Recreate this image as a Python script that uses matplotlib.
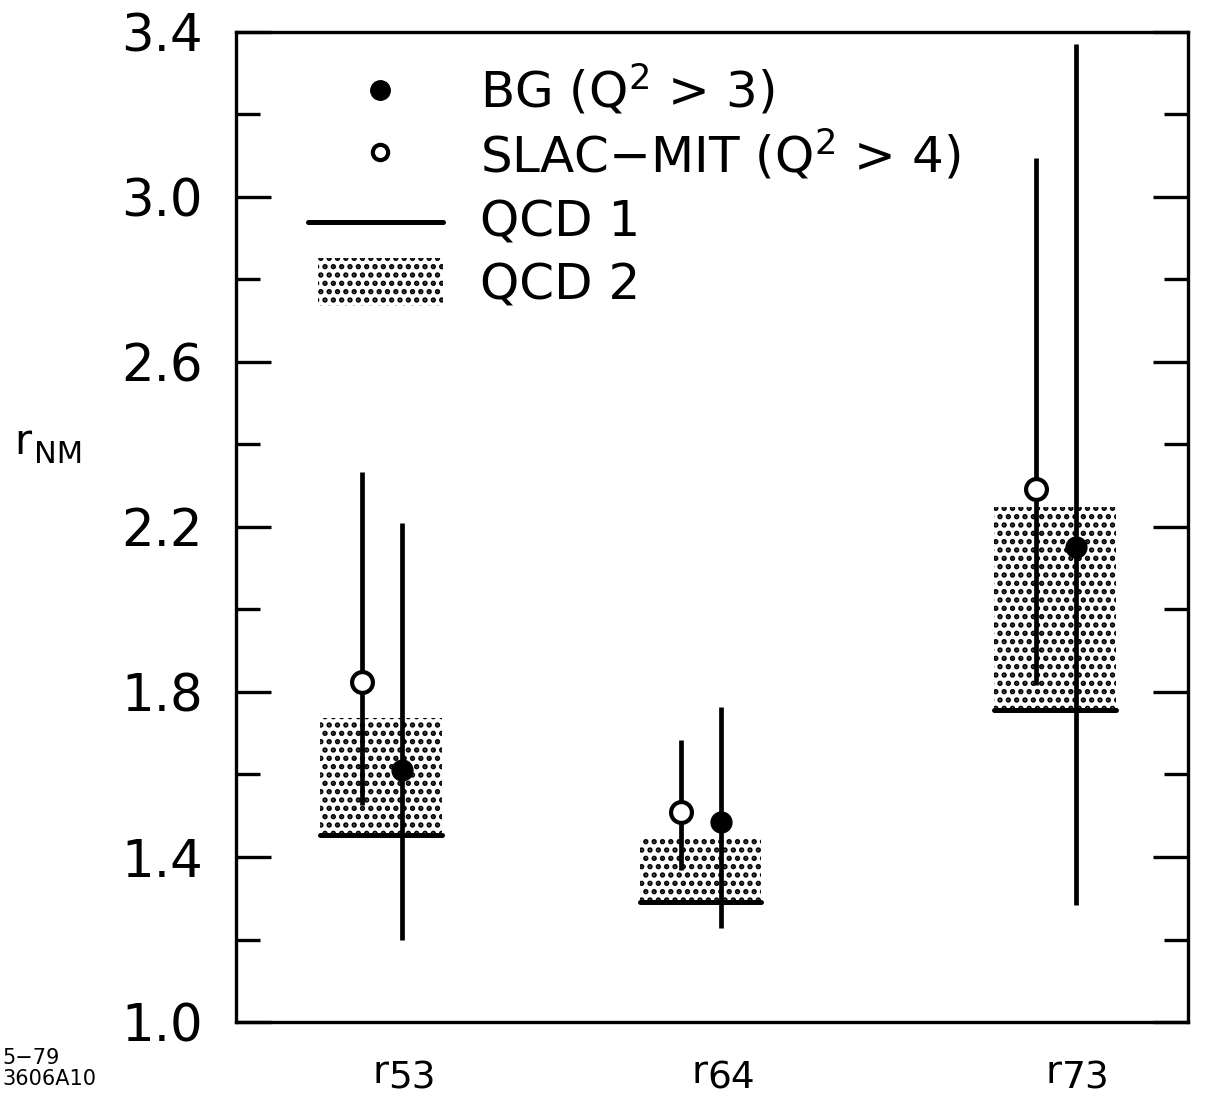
import numpy as np
import matplotlib
matplotlib.use('Agg')
import matplotlib.pyplot as plt
from matplotlib.patches import Rectangle
from matplotlib.lines import Line2D

plt.rcParams['font.family'] = ['DejaVu Sans']
plt.rcParams['mathtext.fontset'] = 'dejavusans'
plt.rcParams['hatch.linewidth'] = 2.6

# data
categories = ['53', '64', '73']
bg_val = [1.61, 1.485, 2.152]
bg_lo = [1.20, 1.228, 1.284]
bg_hi = [2.21, 1.764, 3.37]
slac_val = [1.824, 1.509, 2.292]
slac_lo = [1.526, 1.368, 1.817]
slac_hi = [2.333, 1.684, 3.095]
qcd1 = [1.453, 1.291, 1.756]
qcd2_top = [1.737, 1.446, 2.248]

# layout: group centres on the x axis (not evenly spaced in the original)
xpos = np.array([1.0, 2.0, 3.11])
off_open, off_fill, half_w = -0.06, 0.065, 0.19

fig = plt.figure(figsize=(12.07, 11.05), dpi=100)
ax = fig.add_axes([0.1955, 0.0751, 0.7888, 0.896])

# QCD 2 stippled bands and QCD 1 lines
for x, lo, hi in zip(xpos, qcd1, qcd2_top):
    ax.add_patch(Rectangle((x - half_w, lo), 2 * half_w, hi - lo,
                           facecolor='white', edgecolor='black', lw=0,
                           hatch='..', zorder=1))
ax.hlines(qcd1, xpos - half_w, xpos + half_w, colors='black', lw=3.6,
          capstyle='round', zorder=2)

# data points
bg_err = [np.subtract(bg_val, bg_lo), np.subtract(bg_hi, bg_val)]
slac_err = [np.subtract(slac_val, slac_lo), np.subtract(slac_hi, slac_val)]
ax.errorbar(xpos + off_open, slac_val, yerr=slac_err, fmt='o', color='black',
            mfc='white', mec='black', ms=15, mew=3, elinewidth=3.4,
            capsize=0, zorder=4)
ax.errorbar(xpos + off_fill, bg_val, yerr=bg_err, fmt='o', color='black',
            ms=15, elinewidth=3.4, capsize=0, zorder=4)

ax.set_xlim(0.5455, 3.527)
ax.set_ylim(1.0, 3.4)
for s in ax.spines.values():
    s.set_linewidth(2.4)

ax.set_xticks([])
ax.set_yticks(np.arange(1.0, 3.41, 0.4))
ax.set_yticks(np.arange(1.2, 3.4, 0.4), minor=True)
ax.set_yticklabels(['1.0', '1.4', '1.8', '2.2', '2.6', '3.0', '3.4'])
ax.tick_params(axis='y', which='major', direction='in', length=25, width=2.4,
               labelsize=37, pad=24, right=True)
ax.tick_params(axis='y', which='minor', direction='in', length=17, width=2.4,
               right=True)

# category labels r_NM
for x, c in zip(xpos, categories):
    ax.annotate('r', xy=(x, 0), xycoords=('data', 'axes fraction'),
                xytext=(5, -22), textcoords='offset points',
                ha='right', va='top', fontsize=28)
    ax.annotate(c, xy=(x, 0), xycoords=('data', 'axes fraction'),
                xytext=(5, -28), textcoords='offset points',
                ha='left', va='top', fontsize=27)

fig.text(0.012, 0.6, 'r', fontsize=30, ha='left', va='center')
fig.text(0.028, 0.589, 'NM', fontsize=22, ha='left', va='center')
fig.text(0.002, 0.033, '5\u221279\n3606A10', fontsize=15, ha='left',
         va='center', linespacing=1.1)

# legend drawn by hand
ax.plot([0.151], [0.941], 'o', color='black', ms=14, transform=ax.transAxes)
ax.plot([0.151], [0.879], 'o', mfc='white', mec='black', ms=11, mew=3,
        transform=ax.transAxes)
ax.add_line(Line2D([0.0756, 0.2174], [0.808, 0.808], color='black', lw=3.6,
                   transform=ax.transAxes, solid_capstyle='round'))
ax.add_patch(Rectangle((0.086, 0.723), 0.131, 0.0485, facecolor='white',
                       edgecolor='black', lw=0, hatch='..',
                       transform=ax.transAxes))
labels = ['BG (Q$^{2}$ > 3)', 'SLAC\u2212MIT (Q$^{2}$ > 4)', 'QCD 1', 'QCD 2']
for yy, t in zip([0.941, 0.876, 0.808, 0.744], labels):
    ax.text(0.256, yy, t, fontsize=36, ha='left', va='center',
            transform=ax.transAxes)

fig.savefig('out.png', dpi=100)
